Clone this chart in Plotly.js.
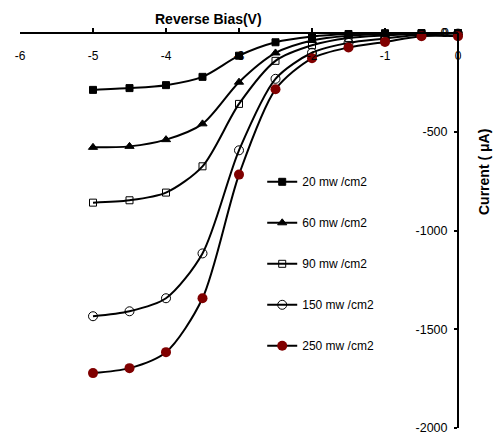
<!DOCTYPE html>
<html>
<head>
<meta charset="utf-8">
<script src="https://cdn.plot.ly/plotly-3.0.1.min.js"></script>
<style>html,body{margin:0;padding:0;background:#fff;}#chart{width:497px;height:432px;}</style>
</head>
<body>
<div id="chart"></div>
<script>
const voltage = [-5, -4.5, -4, -3.5, -3, -2.5, -2, -1.5, -1, -0.5, 0];
const i20  = [-288, -279, -264, -222, -115, -47, -18, -5, -1, 0, 0];
const i60  = [-579, -574, -540, -460, -249, -101, -38, -14, -6, -2, 0];
const i90  = [-859, -847, -808, -675, -359, -141, -62, -25, -12, -4, 0];
const i150 = [-1434, -1409, -1343, -1116, -594, -232, -100, -50, -28, -8, -3];
const i250 = [-1722, -1697, -1616, -1343, -717, -285, -128, -73, -45, -16, -16];
const seriesNames = ['20 mw /cm2', '60 mw /cm2', '90 mw /cm2', '150 mw /cm2', '250 mw /cm2'];
const xTicks = [-6, -5, -4, -3, -2, -1, 0];
const yTicks = [-2000, -1500, -1000, -500, 0];

const FONT = 'Arial, "Liberation Sans", sans-serif';
const markers = [
  {symbol: 'square', size: 7, color: '#000', line: {color: '#000', width: 1}},
  {symbol: 'triangle-up', size: 8, color: '#000', line: {color: '#000', width: 1}},
  {symbol: 'square-open', size: 7, color: '#000', line: {color: '#000', width: 1}},
  {symbol: 'circle-open', size: 9, color: '#000', line: {color: '#000', width: 1}},
  {symbol: 'circle', size: 10, color: '#800000', line: {color: '#800000', width: 0}}
];
const ys = [i20, i60, i90, i150, i250];
const traces = ys.map((y, k) => ({
  x: voltage, y: y, name: seriesNames[k], type: 'scatter', mode: 'lines+markers',
  line: {color: '#000', width: 2, shape: 'spline', smoothing: 0.8},
  marker: markers[k], cliponaxis: false, legendgroup: 'g' + k
}));

// y tick label at the axis crossing (Plotly drops it there), drawn through the y scale
const topYTick = yTicks[yTicks.length - 1];

const layout = {
  width: 497, height: 432,
  margin: {l: 20, r: 39, t: 33, b: 4},
  paper_bgcolor: '#fff', plot_bgcolor: '#fff',
  font: {family: FONT, size: 12, color: '#000'},
  showlegend: true,
  legend: {x: 0.553, y: 0.66, xanchor: 'left', yanchor: 'top', bgcolor: 'rgba(0,0,0,0)',
           font: {family: FONT, size: 12, color: '#000'}, tracegroupgap: 22, traceorder: 'grouped'},
  xaxis: {
    range: [-6, 0], side: 'bottom', anchor: 'free', position: 1,
    tickvals: xTicks, ticktext: xTicks.map(String),
    showline: true, linecolor: '#000', linewidth: 2, ticks: 'inside', ticklen: 4, tickwidth: 2, tickcolor: '#000',
    ticklabelstandoff: 12, ticklabeloverflow: 'allow',
    showgrid: false, zeroline: false, fixedrange: true, automargin: false,
    tickfont: {family: FONT, size: 12, color: '#000'}
  },
  yaxis: {
    range: [-2000, 0], side: 'left', anchor: 'free', position: 1,
    tickvals: yTicks, ticktext: yTicks.map(String),
    showline: true, linecolor: '#000', linewidth: 2, ticks: 'outside', ticklen: 3, tickwidth: 2, tickcolor: '#000',
    ticklabelstandoff: 4, ticklabeloverflow: 'allow',
    showgrid: false, zeroline: false, fixedrange: true, automargin: false,
    tickfont: {family: FONT, size: 12.5, color: '#000'}
  },
  annotations: [
    {text: '<b>Reverse Bias(V)</b>', xref: 'paper', yref: 'paper', x: (208 - 20) / 438, y: 1 + 14 / 395,
     xanchor: 'center', yanchor: 'middle', showarrow: false, font: {family: FONT, size: 14, color: '#000'}},
    {text: '<b>Current ( μA)</b>', xref: 'paper', yref: 'paper', x: 1 + 26 / 438, y: (428 - 172) / 395,
     xanchor: 'center', yanchor: 'middle', textangle: -90, showarrow: false, font: {family: FONT, size: 14, color: '#000'}},
    {text: String(topYTick), xref: 'paper', yref: 'y', x: 1, y: topYTick, xanchor: 'right', yanchor: 'middle',
     xshift: -7, showarrow: false, font: {family: FONT, size: 12.5, color: '#000'}}
  ]
};
Plotly.newPlot('chart', traces, layout, {displayModeBar: false, staticPlot: true});
</script>
</body>
</html>
